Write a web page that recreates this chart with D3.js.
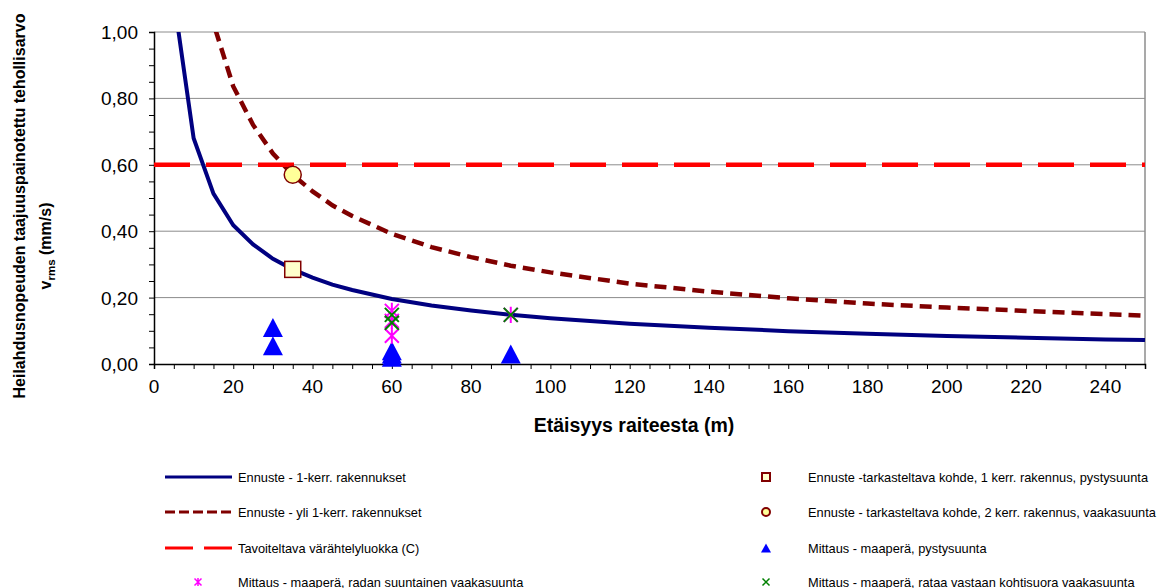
<!DOCTYPE html>
<html><head><meta charset="utf-8">
<script src="https://cdn.jsdelivr.net/npm/d3@7"></script>
<style>html,body{margin:0;padding:0;background:#fff;} text{font-family:Arial,"Liberation Sans",sans-serif;}</style>
</head><body>
<svg id="c" width="1160" height="588"></svg>
<script>
// ---- data ----
const distances = [5,10,15,20,25,30,35,40,45,50,60,70,80,90,100,120,140,160,180,200,220,240,250];
const ennuste1 = [1.10,0.68,0.513,0.418,0.360,0.317,0.285,0.260,0.239,0.223,0.196,0.176,0.161,0.148,0.138,0.121,0.109,0.099,0.091,0.084,0.079,0.074,0.072];
const ennuste2 = [2.20,1.36,1.026,0.836,0.720,0.634,0.570,0.520,0.478,0.446,0.392,0.352,0.322,0.296,0.276,0.242,0.218,0.198,0.182,0.170,0.160,0.150,0.146];
const targetLevel = 0.60;
const kohde1 = [[35,0.285]];
const kohde2 = [[35,0.57]];
const mittausPysty = [[30,0.11],[30,0.055],[60,0.04],[60,0.03],[60,0.02],[90,0.03]];
const mittausRadan = [[60,0.16],[60,0.13],[60,0.085],[90,0.148]];
const mittausKohti = [[60,0.148],[60,0.124],[90,0.148]];
const xTicks = [0,20,40,60,80,100,120,140,160,180,200,220,240];
const yTicks = [0,0.2,0.4,0.6,0.8,1.0];
const yTickLabels = ["0,00","0,20","0,40","0,60","0,80","1,00"];
const legendLeft = ["Ennuste - 1-kerr. rakennukset","Ennuste - yli 1-kerr. rakennukset","Tavoiteltava värähtelyluokka (C)","Mittaus - maaperä, radan suuntainen vaakasuunta"];
const legendRight = ["Ennuste -tarkasteltava kohde, 1 kerr. rakennus, pystysuunta","Ennuste - tarkasteltava kohde, 2 kerr. rakennus, vaakasuunta","Mittaus - maaperä, pystysuunta","Mittaus - maaperä, rataa vastaan kohtisuora vaakasuunta"];

const svg = d3.select("#c");
const L=154, R=1145, T=32, B=364;
const x = d3.scaleLinear().domain([0,250]).range([L,R]);
const y = d3.scaleLinear().domain([0,1]).range([B,T]);

svg.append("defs").append("clipPath").attr("id","clip")
  .append("rect").attr("x",L).attr("y",T).attr("width",R-L).attr("height",B-T);

// gridlines
svg.append("g").selectAll("line").data(yTicks.filter(d=>d>0)).join("line")
  .attr("x1",L).attr("x2",R).attr("y1",d=>y(d)).attr("y2",d=>y(d))
  .attr("stroke","#8c8c8c").attr("stroke-width",1);
// right border
svg.append("line").attr("x1",R).attr("x2",R).attr("y1",T).attr("y2",B).attr("stroke","#8c8c8c").attr("stroke-width",1.5);

// axes
const yMinor = d3.range(0,1.0001,0.05);
const xMinor = d3.range(0,250.1,5);
const gx = svg.append("g").attr("transform",`translate(0,${B})`)
  .call(d3.axisBottom(x).tickValues(xMinor).tickSize(5).tickFormat(""));
gx.select(".domain").attr("stroke","#000").attr("stroke-width",1.5);
gx.selectAll(".tick line").attr("stroke","#000");
const gy = svg.append("g").attr("transform",`translate(${L},0)`)
  .call(d3.axisLeft(y).tickValues(yMinor).tickSize(5).tickFormat(""));
gy.select(".domain").attr("stroke","#000").attr("stroke-width",1.5);
gy.selectAll(".tick line").attr("stroke","#000");

// tick labels
svg.append("g").selectAll("text").data(xTicks).join("text")
  .attr("x",d=>x(d)).attr("y",B+29).attr("text-anchor","middle")
  .attr("font-size",19).attr("fill","#000").text(d=>d);
svg.append("g").selectAll("text").data(yTicks).join("text")
  .attr("x",L-16).attr("y",d=>y(d)+7).attr("text-anchor","end")
  .attr("font-size",19).attr("fill","#000").text((d,i)=>yTickLabels[i]);

// titles
svg.append("text").attr("x",634).attr("y",432).attr("text-anchor","middle")
  .attr("font-size",19.5).attr("font-weight","bold").text("Etäisyys raiteesta (m)");
svg.append("text").attr("transform","translate(25,206) rotate(-90)").attr("text-anchor","middle")
  .attr("font-size",16).attr("font-weight","bold").text("Heilahdusnopeuden taajuuspainotettu tehollisarvo");
const t2 = svg.append("text").attr("transform","translate(51,246) rotate(-90)").attr("text-anchor","middle")
  .attr("font-size",16).attr("font-weight","bold");
t2.append("tspan").text("v");
t2.append("tspan").attr("font-size",11.5).attr("dy",4).text("rms");
t2.append("tspan").attr("dy",-4).text(" (mm/s)");

// curves
const plot = svg.append("g").attr("clip-path","url(#clip)");
const line = d3.line().x(d=>x(d[0])).y(d=>y(d[1]));
plot.append("path").datum(distances.map((d,i)=>[d,ennuste2[i]])).attr("d",line)
  .attr("fill","none").attr("stroke","#800000").attr("stroke-width",4.5).attr("stroke-dasharray","12,7");
plot.append("path").datum(distances.map((d,i)=>[d,ennuste1[i]])).attr("d",line)
  .attr("fill","none").attr("stroke","#000080").attr("stroke-width",4);
plot.append("line").attr("x1",x(0)).attr("x2",x(250)).attr("y1",y(targetLevel)).attr("y2",y(targetLevel))
  .attr("stroke","#ff0000").attr("stroke-width",4.5).attr("stroke-dasharray","36,16");

// marker helpers
function tri(g,cx,cy,w,h){ g.append("path").attr("d",`M${cx},${cy-h/2}L${cx+w/2},${cy+h/2}L${cx-w/2},${cy+h/2}Z`).attr("fill","#0000ff"); }
function star(g,cx,cy,s,sw){ const r=s/2; g.append("path").attr("d",`M${cx-r},${cy-r}L${cx+r},${cy+r}M${cx-r},${cy+r}L${cx+r},${cy-r}M${cx},${cy-r*1.15}L${cx},${cy+r*1.15}`).attr("stroke","#ff00ff").attr("stroke-width",sw).attr("fill","none"); }
function cross(g,cx,cy,s,sw){ const r=s/2; g.append("path").attr("d",`M${cx-r},${cy-r}L${cx+r},${cy+r}M${cx-r},${cy+r}L${cx+r},${cy-r}`).attr("stroke","#008000").attr("stroke-width",sw).attr("fill","none"); }

const mk = svg.append("g");
mittausPysty.forEach(d=>tri(mk,x(d[0]),y(d[1]),20,19));
mittausRadan.forEach(d=>star(mk,x(d[0]),y(d[1]),14,2));
mittausKohti.forEach(d=>cross(mk,x(d[0]),y(d[1]),14,2));
kohde1.forEach(d=>mk.append("rect").attr("x",x(d[0])-8).attr("y",y(d[1])-8).attr("width",16).attr("height",16)
  .attr("fill","#ffffcc").attr("stroke","#800000").attr("stroke-width",1.5));
kohde2.forEach(d=>mk.append("circle").attr("cx",x(d[0])).attr("cy",y(d[1])).attr("r",8.5)
  .attr("fill","#ffff99").attr("stroke","#800000").attr("stroke-width",1.5));

// legend
const rowsY = [477,512,548,582];
const lg = svg.append("g");
lg.append("line").attr("x1",165).attr("x2",232).attr("y1",rowsY[0]).attr("y2",rowsY[0]).attr("stroke","#000080").attr("stroke-width",3);
lg.append("line").attr("x1",165).attr("x2",232).attr("y1",rowsY[1]).attr("y2",rowsY[1]).attr("stroke","#800000").attr("stroke-width",3).attr("stroke-dasharray","10,4");
lg.append("line").attr("x1",165).attr("x2",232).attr("y1",rowsY[2]).attr("y2",rowsY[2]).attr("stroke","#ff0000").attr("stroke-width",3).attr("stroke-dasharray","28,11");
star(lg,198,rowsY[3],7,1.5);
legendLeft.forEach((t,i)=>lg.append("text").attr("x",238).attr("y",rowsY[i]+4.5).attr("font-size",12.8).text(t));
lg.append("rect").attr("x",766-4).attr("y",rowsY[0]-4).attr("width",8).attr("height",8).attr("fill","#ffffcc").attr("stroke","#800000").attr("stroke-width",2);
lg.append("circle").attr("cx",766).attr("cy",rowsY[1]).attr("r",4).attr("fill","#ffff99").attr("stroke","#800000").attr("stroke-width",2);
tri(lg,766,rowsY[2],10,9);
cross(lg,766,rowsY[3],7,1.5);
legendRight.forEach((t,i)=>lg.append("text").attr("x",808).attr("y",rowsY[i]+4.5).attr("font-size",12.8).text(t));
</script>
</body></html>
